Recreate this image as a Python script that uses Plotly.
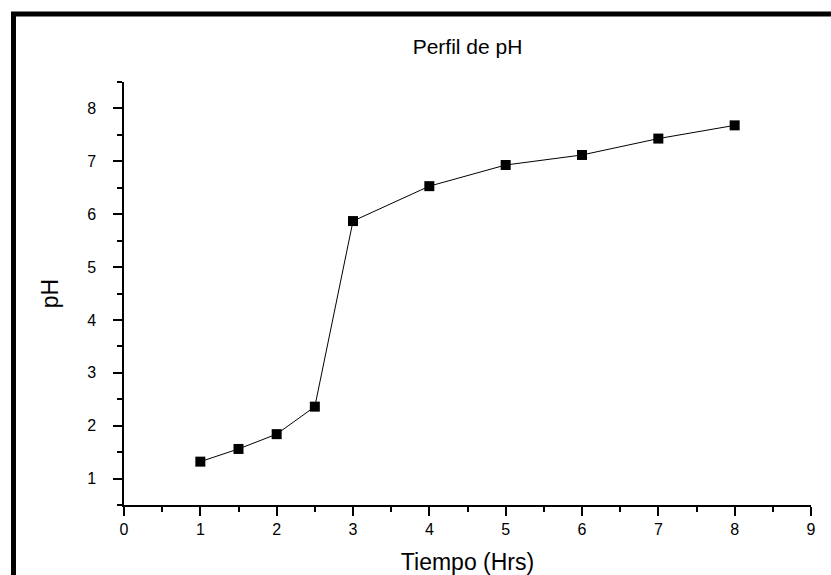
import plotly.graph_objects as go

tiempo = [1, 1.5, 2, 2.5, 3, 4, 5, 6, 7, 8]
ph = [1.32, 1.56, 1.84, 2.36, 5.87, 6.53, 6.93, 7.12, 7.43, 7.68]

L, R, T, B = 124, 20, 82, 70
W, H = 831, 575
pw, ph_ = W - L - R, H - T - B

fig = go.Figure()
fig.add_trace(go.Scatter(
    x=tiempo, y=ph, mode="lines+markers",
    line=dict(color="black", width=1),
    marker=dict(symbol="square", size=10, color="black"),
    showlegend=False,
))

font = "Liberation Sans, Arial, sans-serif"
fig.update_layout(
    width=W, height=H,
    margin=dict(l=L, r=R, t=T, b=B, autoexpand=False),
    paper_bgcolor="white", plot_bgcolor="white",
    font=dict(family=font, color="black", size=16),
    title=dict(text="Perfil de pH", x=0.5, xref="paper", xanchor="center",
               y=1 - 47 / H, yanchor="middle", font=dict(size=21)),
    xaxis=dict(
        range=[0, 9], dtick=1, tick0=0, showgrid=False, zeroline=False,
        showline=True, linecolor="black", linewidth=1.5, automargin=False,
        ticks="outside", ticklen=9, tickwidth=1.5, tickcolor="black",
        minor=dict(ticks="outside", ticklen=5, dtick=0.5, tickwidth=1.5, tickcolor="black", showgrid=False),
        title=dict(text="Tiempo (Hrs)", font=dict(size=23), standoff=20),
        tickfont=dict(size=16),
    ),
    yaxis=dict(
        range=[0.5, 8.5], dtick=1, tick0=0, showgrid=False, zeroline=False,
        showline=True, linecolor="black", linewidth=1.5, automargin=False,
        ticks="outside", ticklen=9, tickwidth=1.5, tickcolor="black",
        ticklabelstandoff=14,
        minor=dict(ticks="outside", ticklen=5, dtick=0.5, tick0=0.5, tickwidth=1.5, tickcolor="black", showgrid=False),
        title=dict(text="pH", font=dict(size=23), standoff=22),
        tickfont=dict(size=16),
    ),
)

# thick frame (right & bottom edges fall outside the visible page)
x0 = (13.5 - L) / pw
y1 = ((H - B) - 14) / ph_
x1 = (W + 40 - L) / pw
y0 = ((H - B) - (H + 40)) / ph_
fig.add_shape(type="rect", xref="paper", yref="paper", x0=x0, x1=x1, y0=y0, y1=y1,
              line=dict(color="black", width=5), fillcolor="rgba(0,0,0,0)", layer="above")

fig.write_html("out.html")
